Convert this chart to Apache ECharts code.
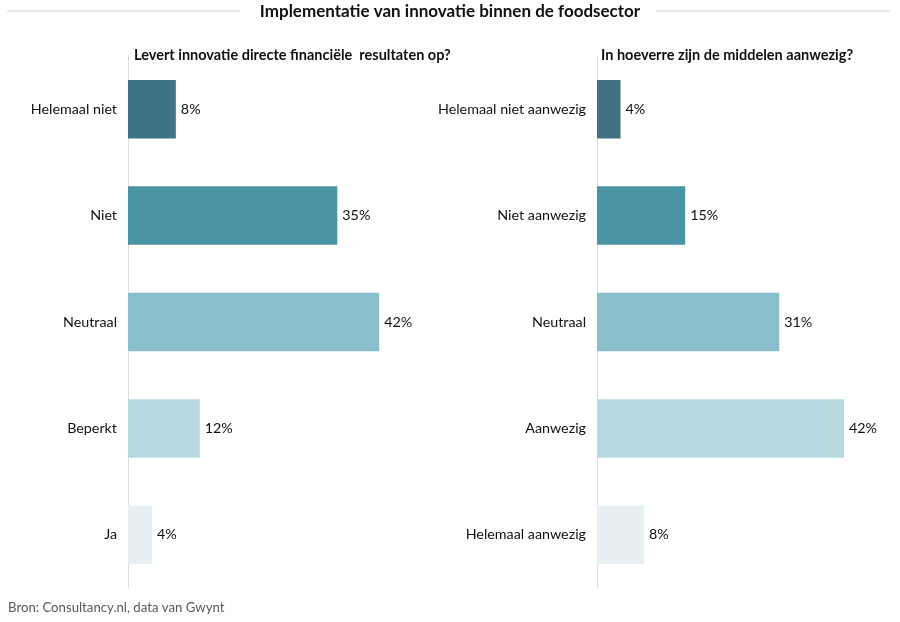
<!DOCTYPE html>
<html lang="nl">
<head>
    <meta charset="UTF-8">
    <title>Implementatie van innovatie binnen de foodsector</title>
    <script src="https://cdn.jsdelivr.net/npm/echarts@6/dist/echarts.min.js"></script>
    <style>
        html, body { margin: 0; padding: 0; background: #fff; }
    </style>
</head>
<body>
<div id="main" style="width: 900px; height: 622px;"></div>
<script type="text/javascript">
    // data
    var leftCategories = ['Helemaal niet', 'Niet', 'Neutraal', 'Beperkt', 'Ja'];
    var leftValues = [8, 35, 42, 12, 4];
    var rightCategories = ['Helemaal niet aanwezig', 'Niet aanwezig', 'Neutraal', 'Aanwezig', 'Helemaal aanwezig'];
    var rightValues = [4, 15, 31, 42, 8];
    var barColors = ['#417284', '#4b94a4', '#88bfca', '#b6d8e0', '#e6f0f3'];

    var font = 'Lato, "Open Sans", sans-serif';

    function coloured(values) {
        return values.map(function (v, i) {
            return { value: v, itemStyle: { color: barColors[i] } };
        });
    }

    function yAxisFor(grid, cats) {
        return {
            type: 'category',
            gridIndex: grid,
            data: cats,
            inverse: true,
            axisLine: { lineStyle: { color: '#dcdcdc', width: 1 } },
            axisTick: { show: false },
            axisLabel: { color: '#111', fontSize: 14.3, fontFamily: font, margin: 11 }
        };
    }

    function xAxisFor(grid) {
        return {
            type: 'value',
            gridIndex: grid,
            min: 0,
            max: 50,
            show: false
        };
    }

    function seriesFor(idx, values) {
        return {
            type: 'bar',
            xAxisIndex: idx,
            yAxisIndex: idx,
            barWidth: '55%',
            data: coloured(values),
            label: {
                show: true,
                position: 'right',
                distance: 5,
                formatter: '{c}%',
                color: '#111',
                fontSize: 14.3,
                fontFamily: font
            }
        };
    }

    var chart = echarts.init(document.getElementById('main'));
    chart.setOption({
        animation: false,
        title: [
            {
                text: 'Implementatie van innovatie binnen de foodsector',
                left: 'center',
                top: -2,
                textStyle: { fontSize: 17, fontWeight: 'bold', color: '#111', fontFamily: font }
            },
            {
                text: 'Levert innovatie directe financiële  resultaten op?',
                left: 129,
                top: 43,
                textStyle: { fontSize: 14.5, fontWeight: 'bold', color: '#111', fontFamily: font }
            },
            {
                text: 'In hoeverre zijn de middelen aanwezig?',
                left: 596,
                top: 43,
                textStyle: { fontSize: 14.5, fontWeight: 'bold', color: '#111', fontFamily: font }
            },
            {
                text: 'Bron: Consultancy.nl, data van Gwynt',
                left: 3,
                top: 596,
                textStyle: { fontSize: 13.2, fontWeight: 'normal', color: '#5a5a5a', fontFamily: font }
            }
        ],
        graphic: [
            { type: 'line', shape: { x1: 7, y1: 11, x2: 240, y2: 11 }, style: { stroke: '#cfcfcf', lineWidth: 1 } },
            { type: 'line', shape: { x1: 656, y1: 11, x2: 890, y2: 11 }, style: { stroke: '#cfcfcf', lineWidth: 1 } }
        ],
        grid: [
            { left: 128, top: 56, width: 299, height: 532 },
            { left: 597, top: 56, width: 294, height: 532 }
        ],
        xAxis: [xAxisFor(0), xAxisFor(1)],
        yAxis: [yAxisFor(0, leftCategories), yAxisFor(1, rightCategories)],
        series: [seriesFor(0, leftValues), seriesFor(1, rightValues)]
    });
</script>
</body>
</html>
